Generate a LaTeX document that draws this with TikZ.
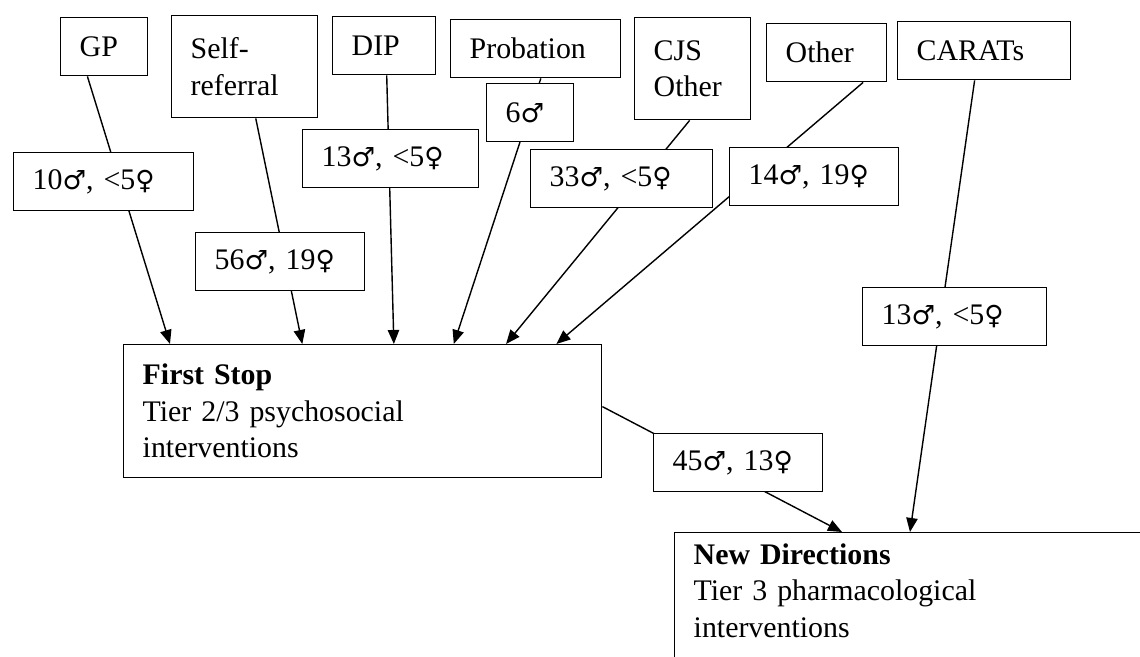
\documentclass[tikz,border=0pt]{standalone}
\usepackage{fontspec}
\setmainfont{Liberation Serif}
\newfontfamily\gsymfont{DejaVu Sans}
\newcommand{\mal}{{\gsymfont\fontsize{15}{15}\selectfont ♂}}
\newcommand{\fem}{{\gsymfont\fontsize{15}{15}\selectfont ♀}}
\usetikzlibrary{arrows.meta, backgrounds, calc}

\begin{document}
\begin{tikzpicture}[
    box/.style={draw, thick, fill=white, anchor=north west, align=left,
                inner xsep=0.38cm, inner ysep=0pt,
                font=\fontsize{17}{20.8}\selectfont},
    src/.style={box, minimum height=1.16cm},
    cnt/.style={box, minimum height=1.16cm},
    arrow/.style={-{Triangle[length=8pt, width=6.5pt]}, thick},
]
\useasboundingbox (0,0) rectangle (22.8,13.14);

% ── Referral sources ─────────────────────────────────────────────────────
\node[src, text width=0.98cm] (gp) at (1.20, 12.80) {GP};
\node[src, text width=2.16cm, minimum height=2.04cm] (self) at (3.42, 12.84)
    {Self-\\referral};
\node[src, text width=1.30cm] (dip) at (6.64, 12.82) {DIP};
\node[src, text width=2.64cm] (prob) at (9.00, 12.76) {Probation};
\node[src, text width=1.56cm, minimum height=2.04cm] (cjs) at (12.68, 12.80)
    {CJS\\Other};
\node[src, text width=1.64cm] (oth) at (15.32, 12.68) {Other};
\node[src, text width=2.70cm] (carats) at (17.94, 12.72) {CARATs};

% ── Counts per route ─────────────────────────────────────────────────────
\node[cnt, text width=2.84cm] (nGP) at (0.26, 10.10) {10\mal, <5\fem};
\node[cnt, text width=2.62cm] (nSelf) at (3.90, 8.50) {56\mal, 19\fem};
\node[cnt, text width=2.76cm] (nDIP) at (6.04, 10.56) {13\mal, <5\fem};
\node[cnt, text width=0.98cm] (nProb) at (9.72, 11.48) {6\mal};
\node[cnt, text width=2.88cm] (nCJS) at (10.60, 10.16) {33\mal, <5\fem};
\node[cnt, text width=2.62cm] (nOth) at (14.58, 10.20) {14\mal, 19\fem};
\node[cnt, text width=2.92cm] (nCar) at (17.24, 7.40) {13\mal, <5\fem};

% ── Services ─────────────────────────────────────────────────────────────
\node[box, text width=8.80cm, minimum height=2.66cm] (fs) at (2.46, 6.26)
    {\textbf{First Stop}\\Tier 2/3 psychosocial\\interventions};
\node[cnt, text width=2.62cm] (nFS) at (13.06, 4.48) {45\mal, 13\fem};
\node[box, text width=9.60cm, inner ysep=0.22cm, text depth=2cm] (nd)
    at (13.48, 2.50)
    {\textbf{New Directions}\\Tier 3 pharmacological\\interventions};

% ── Connectors (behind the count boxes) ──────────────────────────────────
\begin{scope}[on background layer]
\foreach \s/\a/\b in {gp/0.31/0.098, self/0.575/0.374, dip/0.524/0.565,
                      prob/0.53/0.690, cjs/0.474/0.799, oth/0.80/0.904} {
    \draw[arrow] ($(\s.south west)!\a!(\s.south east)$)
        -- ($(fs.north west)!\b!(fs.north east)$);
}
\draw[arrow] ($(carats.south west)!0.445!(carats.south east)$)
    -- ($(nd.north west)+(4.72,0)$);
\draw[arrow] ($(fs.north east)!0.466!(fs.south east)$)
    -- ($(nd.north west)+(3.36,0)$);
\end{scope}

\end{tikzpicture}
\end{document}
